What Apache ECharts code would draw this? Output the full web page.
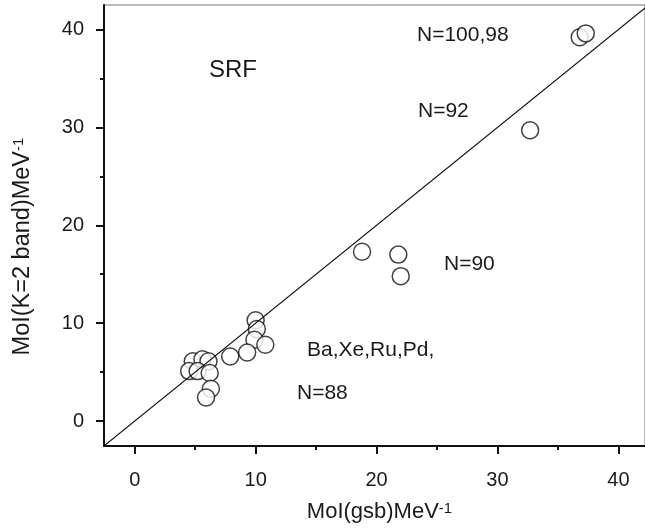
<!DOCTYPE html>
<html>
<head>
<meta charset="utf-8">
<script src="https://cdn.jsdelivr.net/npm/echarts@6/dist/echarts.min.js"></script>
<style>
html, body { margin: 0; padding: 0; background: #fff; }
#chart { width: 645px; height: 532px; }
</style>
</head>
<body>
<div id="chart"></div>
<script>
// MoI of ground band vs K=2 band
var gsbMoI = [36.8, 37.3, 32.7, 18.8, 21.8, 22.0, 10.0, 10.1, 9.9, 10.8, 9.3, 7.9,
    4.8, 5.6, 6.1, 4.5, 5.2, 6.2, 6.3, 5.9];
var k2MoI = [39.2, 39.6, 29.7, 17.3, 17.0, 14.8, 10.3, 9.4, 8.3, 7.8, 7.0, 6.6,
    6.1, 6.3, 6.1, 5.1, 5.1, 4.9, 3.3, 2.4];
// y = x reference line
var diagLine = [-3, 44];
var majorTicks = [0, 10, 20, 30, 40];
var minorTicks = [5, 15, 25, 35];

var font = 'Liberation Sans, Arial, sans-serif';
var textColor = '#1a1a1a';

var points = gsbMoI.map(function (x, i) { return [x, k2MoI[i]]; });
var lineData = diagLine.map(function (v) { return [v, v]; });

function axisBase(extra) {
    var a = {
        type: 'value',
        splitLine: {show: false},
        axisLine: {show: true, onZero: false, lineStyle: {color: '#111', width: 2}},
        axisTick: {show: true, inside: false, length: 8, customValues: majorTicks,
            lineStyle: {color: '#111', width: 2}}
    };
    for (var k in extra) a[k] = extra[k];
    return a;
}

function minorAxis(extra) {
    var a = {
        type: 'value',
        splitLine: {show: false},
        axisLine: {show: false, onZero: false},
        axisTick: {show: true, inside: false, length: 4, customValues: minorTicks,
            lineStyle: {color: '#111', width: 2}},
        axisLabel: {show: false}
    };
    for (var k in extra) a[k] = extra[k];
    return a;
}

function annot(txt, x, y, size) {
    return {type: 'text', left: x, top: y,
        style: {text: txt, fontSize: size, fontFamily: font, fill: textColor}};
}

var chart = echarts.init(document.getElementById('chart'));
chart.setOption({
    animation: false,
    backgroundColor: '#fff',
    grid: {
        left: 104, top: 5, right: -2, bottom: 86,
        show: true, borderColor: '#777', borderWidth: 1
    },
    xAxis: [
        axisBase({
            min: -2.54, max: 42.2, position: 'bottom',
            name: 'MoI(gsb)MeV{sup|-1}',
            nameLocation: 'middle', nameGap: 55,
            nameTextStyle: {color: textColor, fontSize: 22, fontFamily: font,
                padding: [0, 0, 0, 10],
                rich: {sup: {fontSize: 15, verticalAlign: 'top', fontFamily: font, color: textColor}}},
            axisLabel: {customValues: majorTicks, color: textColor, fontSize: 20,
                fontFamily: font, margin: 24}
        }),
        minorAxis({min: -2.54, max: 42.2, position: 'bottom'})
    ],
    yAxis: [
        axisBase({
            min: -2.55, max: 42.5, position: 'left',
            name: 'MoI(K=2 band)MeV{sup|-1}',
            nameLocation: 'middle', nameGap: 69,
            nameTextStyle: {color: textColor, fontSize: 23.5, fontFamily: font,
                padding: [0, 42, 0, 0],
                rich: {sup: {fontSize: 15, verticalAlign: 'top', fontFamily: font, color: textColor}}},
            axisLabel: {customValues: majorTicks, color: textColor, fontSize: 20,
                fontFamily: font, margin: 20}
        }),
        minorAxis({min: -2.55, max: 42.5, position: 'left'})
    ],
    graphic: [
        annot('SRF', 209, 58, 24),
        annot('N=100,98', 417, 25, 21),
        annot('N=92', 418, 101, 21),
        annot('N=90', 444, 254, 21),
        annot('Ba,Xe,Ru,Pd,', 307, 340, 21),
        annot('N=88', 297, 383, 21)
    ],
    series: [
        {
            type: 'scatter',
            xAxisIndex: 0, yAxisIndex: 0,
            data: points,
            symbol: 'circle',
            symbolSize: 17,
            itemStyle: {color: '#fff', borderColor: '#111', borderWidth: 1.5},
            z: 2
        },
        {
            type: 'line',
            xAxisIndex: 0, yAxisIndex: 0,
            data: lineData,
            symbol: 'none',
            clip: true,
            lineStyle: {color: '#111', width: 1.2},
            z: 3
        }
    ]
});
</script>
</body>
</html>
